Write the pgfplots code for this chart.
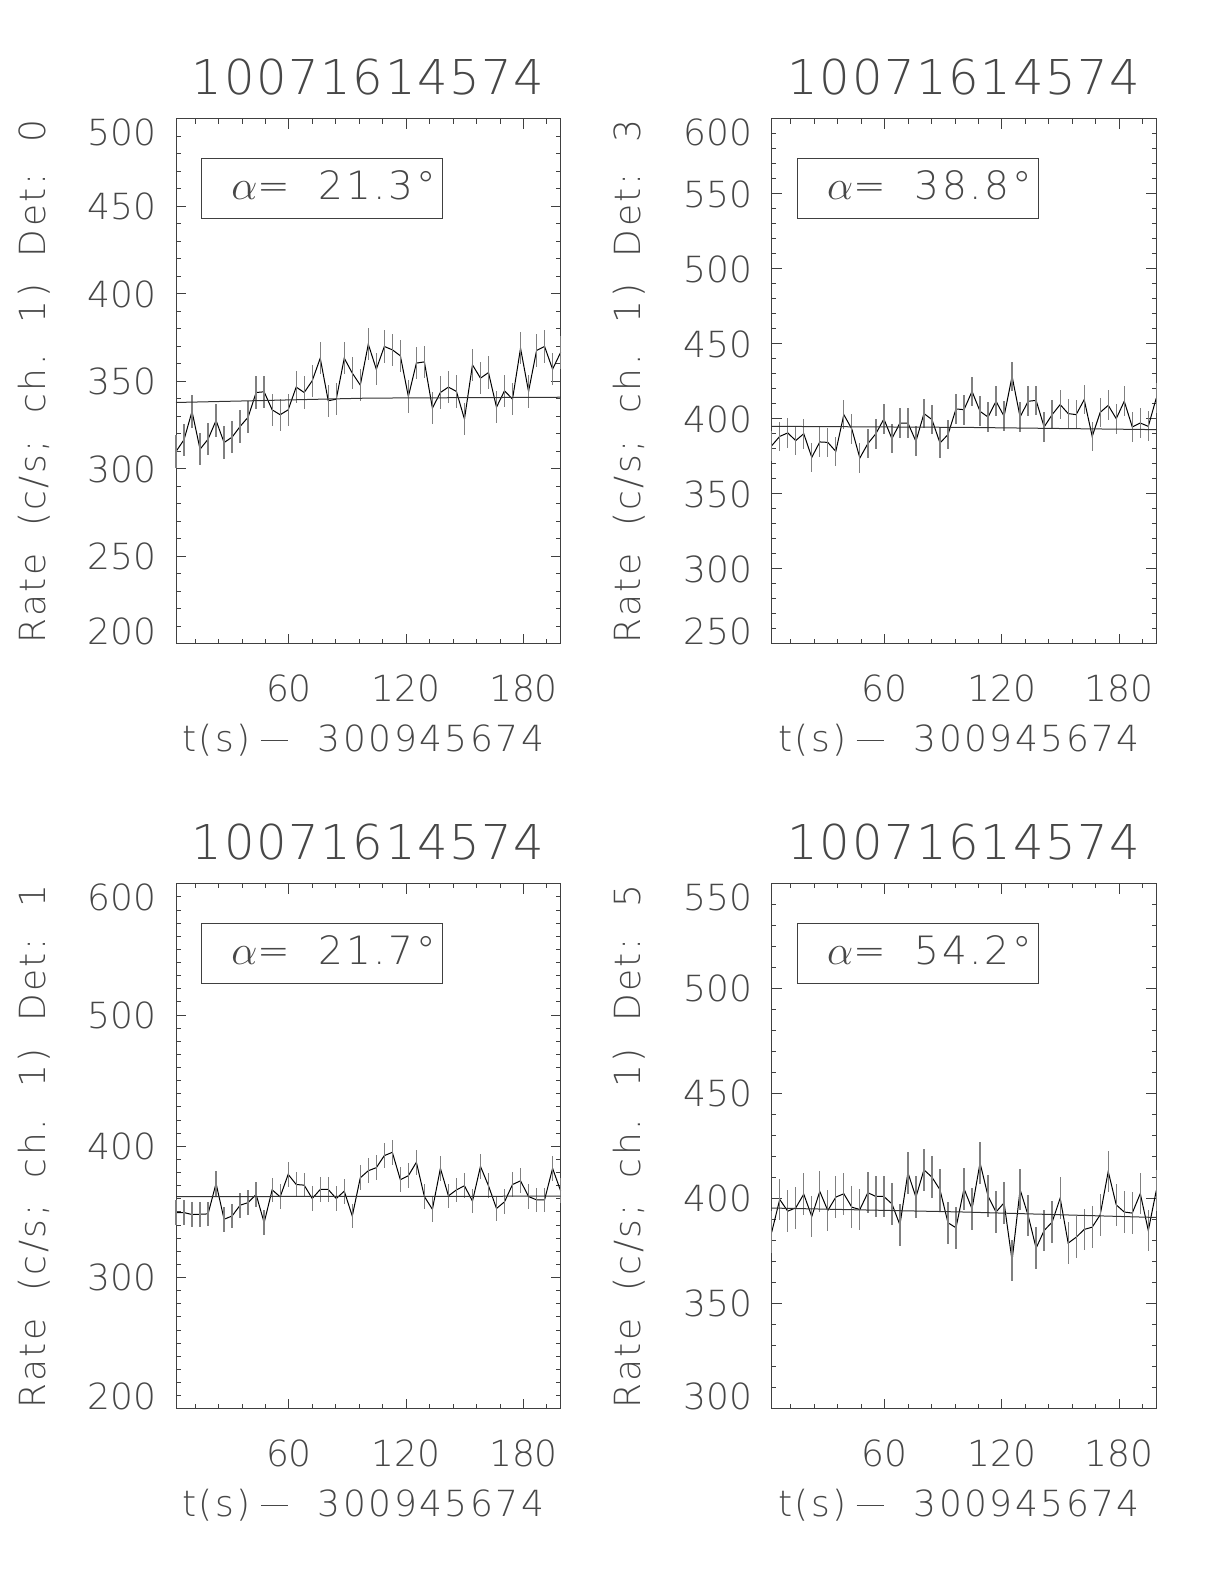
\documentclass[border=0pt]{standalone}
\usepackage{fontspec}
\setmainfont{DejaVu Sans ExtraLight}
\newfontfamily\lsfont{DejaVu Sans ExtraLight}[LetterSpace=7,WordSpace=1.9]
\newfontfamily\ttlfont{DejaVu Sans ExtraLight}[LetterSpace=3.5]
\usepackage{pgfplots}
\pgfplotsset{compat=1.18}
\usepackage{pgfplotstable}

\colorlet{txt}{black!72}
\newcommand\tkf{\fontsize{18}{18}\selectfont}
\newcommand\lbf{\lsfont\fontsize{18}{18}\selectfont}
\newcommand\ttlsz{\ttlfont\fontsize{24}{24}\selectfont}
\newcommand\bxf{\lsfont\fontsize{19.5}{19.5}\selectfont}
\newcommand\lo[1]{\raisebox{-6.5pt}[\height][0pt]{#1}}
\newcommand\hi[1]{\raisebox{6.5pt}[\height][0pt]{#1}}
\newcommand\xlab{t(s)\hspace{5pt}\rule[5.2pt]{13.5pt}{0.55pt}\hspace{15pt}300945674}

\pgfplotstableread{
t a b c d
2.2 310.0 382.2 349.5 384.1
6.3 316.7 388.4 349.5 399.7
10.4 332.9 390.7 348.0 394.1
14.5 311.3 385.6 348.2 395.7
18.6 317.0 390.2 348.5 402.2
22.7 327.7 374.4 371.7 391.6
26.8 315.1 384.7 344.4 403.5
30.9 318.2 384.4 346.9 394.4
35.0 324.3 378.4 355.1 400.8
39.1 329.6 402.9 357.1 402.4
43.2 343.7 393.3 363.3 396.0
47.3 344.1 374.0 341.8 394.9
51.4 333.8 383.6 366.8 402.9
55.5 331.0 390.2 361.5 401.1
59.6 333.8 400.0 378.6 401.1
63.7 346.8 386.9 370.9 397.6
67.8 343.7 397.3 370.4 387.6
71.9 350.4 397.3 360.2 412.4
76.0 363.3 385.1 367.1 400.8
80.1 339.0 403.6 367.1 413.8
84.2 339.9 399.6 360.2 410.3
88.3 363.3 384.0 365.8 404.3
92.4 354.8 389.6 346.9 388.6
96.5 347.9 406.7 376.0 386.2
100.6 371.3 406.2 381.4 404.8
104.7 357.0 418.4 383.7 395.2
108.8 370.0 405.1 392.9 417.1
112.9 368.1 401.3 395.4 401.3
117.0 364.7 411.8 374.5 393.7
121.1 341.4 401.8 377.6 398.1
125.2 360.5 428.4 387.8 370.6
129.3 361.2 401.3 361.7 404.4
133.4 334.8 411.8 352.0 392.1
137.5 343.7 412.4 383.2 376.5
141.6 346.8 394.7 362.2 384.9
145.7 344.3 402.9 366.8 388.9
149.8 328.5 409.6 369.9 400.3
153.9 359.5 403.6 358.2 378.9
158.0 351.9 402.9 384.7 381.7
162.1 355.1 412.9 369.9 385.4
166.2 335.3 388.4 352.6 386.5
170.3 344.7 404.4 357.7 392.4
174.4 339.9 409.1 370.9 413.0
178.5 369.0 400.2 373.7 397.1
182.6 344.3 411.8 361.7 393.7
186.7 367.7 394.7 359.2 393.2
190.8 370.0 397.3 359.2 402.5
194.9 357.0 395.1 383.2 384.9
199.0 366.6 414.0 366.1 404.0
}\data

\pgfplotstableread{
t a b c d
2.2 338.0 395.1 361.7 395.6
100.6 340.5 394.4 361.8 393.7
199.0 341.0 392.9 362.0 391.1
}\fit

\pgfplotsset{
  panel/.style={
    width=192.3pt, height=262.5pt, scale only axis, anchor=south west,
    xmin=2.2, xmax=199.0,
    xtick={60,120,180}, xticklabels={60,120,180},
    minor xtick={12,24,...,192},
    tick align=inside, tick pos=both,
    major tick length=5pt, minor tick length=2.3pt,
    axis line style={black!75, line width=0.5pt},
    tick style={black!75, line width=0.5pt},
    xticklabel style={font=\tkf, text=txt, anchor=base, inner sep=0pt, yshift=-28.85pt},
    yticklabel style={font=\tkf, text=txt, anchor=east, inner sep=0pt, xshift=-9.6pt},
    clip=false,
  },
  dat/.style={black, line width=0.5pt, mark=none,
    error bars/.cd, y dir=both, y fixed=#1, error mark=none,
    error bar style={black!50, line width=0.65pt}},
  fitl/.style={black!80, line width=0.5pt, mark=none},
}

\newcommand\decor[2]{%
  \node[font=\ttlsz, text=txt, anchor=base] at ([yshift=12pt]axis description cs:0.5,1) {10071614574};
  \node[font=\lbf, text=txt, anchor=base] at ([yshift=-53.85pt, xshift=-2.5pt]axis description cs:0.5,0) {\xlab};
  \node[font=\lbf, text=txt, anchor=base, rotate=90] at ([xshift=-65.5pt]axis description cs:0,0.5) {Rate (c/s; ch. 1) Det: #1};
  \draw[black!75, line width=0.5pt] (axis description cs:0.067,0.81) rectangle (axis description cs:0.694,0.925);
  \node[font=\bxf, text=txt, anchor=base] at (axis description cs:0.41,0.847) {$\alpha$= #2°};
}

\begin{document}
\begin{tikzpicture}
\useasboundingbox (0,0) rectangle (612pt,792pt);

\begin{axis}[panel, at={(88pt,470pt)},
  ymin=200, ymax=500, ytick={200,250,...,500},
  yticklabels={\hi{200},250,300,350,400,450,\lo{500}},
  minor ytick={200,210,...,500}]
\addplot[dat=9.2] table[x=t,y=a]{\data};
\addplot[fitl] table[x=t,y=a]{\fit};
\decor{0}{21.3}
\end{axis}

\begin{axis}[panel, at={(385.85pt,470pt)},
  ymin=250, ymax=600, ytick={250,300,...,600},
  yticklabels={\hi{250},300,350,400,450,500,550,\lo{600}},
  minor ytick={250,260,...,600}]
\addplot[dat=9.9] table[x=t,y=b]{\data};
\addplot[fitl] table[x=t,y=b]{\fit};
\decor{3}{38.8}
\end{axis}

\begin{axis}[panel, at={(88pt,87.6pt)},
  ymin=200, ymax=600, ytick={200,300,...,600},
  yticklabels={\hi{200},300,400,500,\lo{600}},
  minor ytick={200,210,...,600}]
\addplot[dat=9.4] table[x=t,y=c]{\data};
\addplot[fitl] table[x=t,y=c]{\fit};
\decor{1}{21.7}
\end{axis}

\begin{axis}[panel, at={(385.85pt,87.6pt)},
  ymin=300, ymax=550, ytick={300,350,...,550},
  yticklabels={\hi{300},350,400,450,500,\lo{550}},
  minor ytick={300,310,...,550}]
\addplot[dat=9.9] table[x=t,y=d]{\data};
\addplot[fitl] table[x=t,y=d]{\fit};
\decor{5}{54.2}
\end{axis}
\end{tikzpicture}
\end{document}
